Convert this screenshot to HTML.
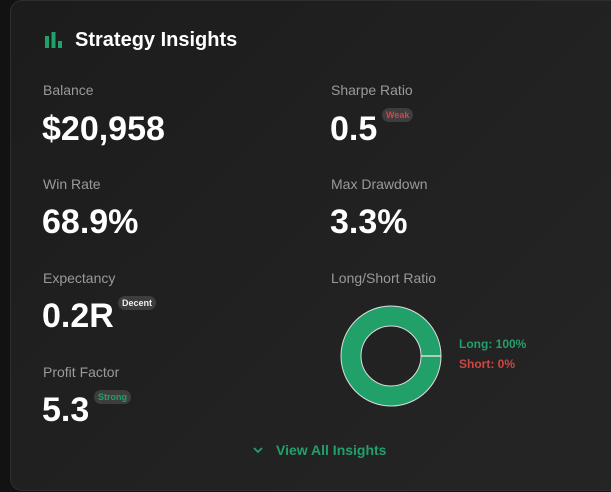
<!DOCTYPE html>
<html><head><style>
*{margin:0;padding:0;box-sizing:border-box}
body{width:611px;height:492px;background:#121212;overflow:hidden;font-family:"Liberation Sans",Arial,sans-serif;position:relative}
.card{position:absolute;left:10px;top:0;width:640px;height:491px;border-radius:12px;background:linear-gradient(135deg,#1c1c1c 0%,#222 60%,#252525 100%);border:1px solid #2e2e2e}
.t{position:absolute;white-space:nowrap}
.lab{font-size:14px;color:#9a9a9a}
.val{font-size:34px;font-weight:bold;color:#fff}
.badge{position:absolute;font-size:9px;font-weight:bold;background:#3d3d3d;border-radius:7px;padding:2px 4px;line-height:10px}
</style></head><body>
<div class="card"></div>
<svg style="position:absolute;left:45px;top:32px" width="18" height="16"><rect x="0" y="4" width="4" height="12" fill="#21a06a"/><rect x="6.5" y="0" width="4" height="16" fill="#21a06a"/><rect x="13" y="9" width="4" height="7" fill="#21a06a"/></svg>
<div class="t" style="left:75px;top:29px;font-size:20px;font-weight:bold;color:#fff">Strategy Insights</div>

<div class="t lab" style="left:43px;top:82px">Balance</div>
<div class="t val" style="left:42px;top:110px">$20,958</div>
<div class="t lab" style="left:43px;top:176px">Win Rate</div>
<div class="t val" style="left:42px;top:203px">68.9%</div>
<div class="t lab" style="left:43px;top:270px">Expectancy</div>
<div class="t val" style="left:42px;top:297px">0.2R</div>
<div class="badge" style="left:118px;top:296px;color:#eee">Decent</div>
<div class="t lab" style="left:43px;top:364px">Profit Factor</div>
<div class="t val" style="left:42px;top:391px">5.3</div>
<div class="badge" style="left:94px;top:390px;color:#21a06a">Strong</div>

<div class="t lab" style="left:331px;top:82px">Sharpe Ratio</div>
<div class="t val" style="left:330px;top:110px">0.5</div>
<div class="badge" style="left:382px;top:108px;color:#d04545">Weak</div>
<div class="t lab" style="left:331px;top:176px">Max Drawdown</div>
<div class="t val" style="left:330px;top:203px">3.3%</div>
<div class="t lab" style="left:331px;top:270px">Long/Short Ratio</div>

<svg style="position:absolute;left:340px;top:305px" width="102" height="102">
<circle cx="51" cy="51" r="40" fill="none" stroke="#21a06a" stroke-width="20"/>
<circle cx="51" cy="51" r="50" fill="none" stroke="#ddd" stroke-width="1"/>
<circle cx="51" cy="51" r="30" fill="none" stroke="#ddd" stroke-width="1"/>
<line x1="81" y1="51" x2="101" y2="51" stroke="#ddd" stroke-width="1.5"/>
</svg>
<div class="t" style="left:459px;top:337px;font-size:12px;font-weight:bold;color:#21a06a">Long: 100%</div>
<div class="t" style="left:459px;top:357px;font-size:12px;font-weight:bold;color:#d04545">Short: 0%</div>

<svg style="position:absolute;left:252px;top:446px" width="12" height="9"><polyline points="2,2 6,6 10,2" fill="none" stroke="#21a06a" stroke-width="1.8"/></svg>
<div class="t" style="left:276px;top:442px;font-size:14px;font-weight:bold;color:#21a06a">View All Insights</div>
</body></html>
